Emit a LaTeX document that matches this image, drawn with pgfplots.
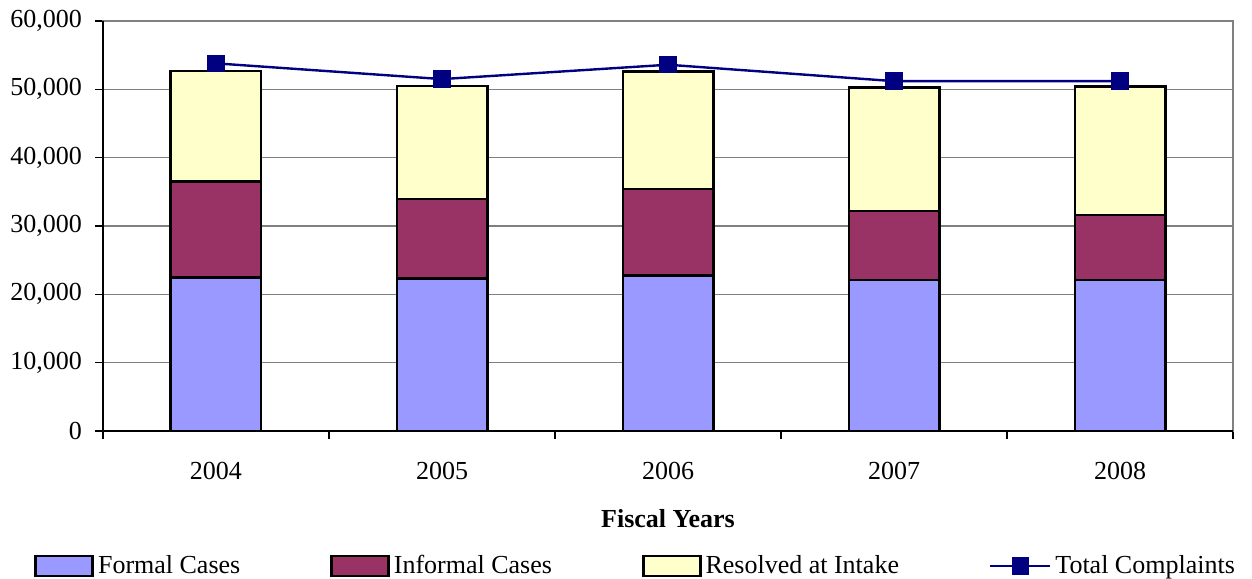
\documentclass[border=0pt]{standalone}
\usepackage{fontspec}
\setmainfont{Liberation Serif}
\usepackage{pgfplots}
\pgfplotsset{compat=1.18}
\definecolor{formal}{HTML}{9999FF}
\definecolor{informal}{HTML}{993366}
\definecolor{resolved}{HTML}{FFFFCC}
\definecolor{navyline}{HTML}{000080}
\definecolor{gridgray}{HTML}{808080}
\newcommand{\chartfont}{\fontsize{13bp}{15bp}\selectfont}
\begin{document}
\begin{tikzpicture}
\useasboundingbox (-51.5bp,-74bp) rectangle (574.5bp,215.5bp);
\begin{axis}[
  name=main,
  scale only axis,
  width=565bp, height=205bp,
  xmin=-0.5, xmax=4.5,
  ymin=0, ymax=60000,
  ybar stacked,
  bar width=0.4,
  axis line style={draw=gridgray, line width=0.8bp},
  xtick={0,1,2,3,4},
  xticklabels={2004,2005,2006,2007,2008},
  minor xtick={-0.5,0.5,1.5,2.5,3.5,4.5},
  major x tick style={draw=none},
  minor x tick style={black, line width=0.8bp},
  minor tick length=4bp,
  xtick pos=bottom,
  ytick={0,10000,...,60000},
  ytick pos=left,
  tick align=outside,
  major tick length=4bp,
  y tick style={black, line width=0.8bp},
  ymajorgrids,
  major grid style={gridgray, line width=0.8bp},
  scaled y ticks=false,
  yticklabel style={/pgf/number format/1000 sep={,}, /pgf/number format/assume math mode=true, font=\chartfont, xshift=-3bp},
  xticklabel style={font=\chartfont, yshift=-8bp},
  xlabel={\textbf{Fiscal Years}},
  xlabel style={font=\chartfont, yshift=-8bp},
  every axis plot/.append style={draw=black, line width=1.3bp},
]
\addplot[fill=formal] coordinates {(0,22450) (1,22300) (2,22800) (3,22100) (4,22100)};
\addplot[fill=informal] coordinates {(0,14050) (1,11650) (2,12600) (3,10100) (4,9500)};
\addplot[fill=resolved] coordinates {(0,16200) (1,16550) (2,17200) (3,18100) (4,18800)};
\end{axis}
\draw[black, line width=0.8bp] (main.north west) -- (main.south west) -- (main.south east);
\begin{axis}[
  scale only axis,
  width=565bp, height=205bp,
  xmin=-0.5, xmax=4.5,
  ymin=0, ymax=60000,
  axis lines=none,
  legend columns=4,
  legend style={draw=none, fill=none, font=\chartfont, at={(-0.061,-0.329)}, anchor=west,
    inner xsep=0pt,
    /tikz/every odd column/.append style={column sep=0bp},
    /tikz/every even column/.append style={column sep=43bp}},
  legend cell align=left,
]
\addlegendimage{legend image code/.code={\draw[fill=formal, draw=black, line width=1.3bp] (0bp,-5bp) rectangle (28.5bp,5bp);}}
\addlegendentry{Formal Cases}
\addlegendimage{legend image code/.code={\draw[fill=informal, draw=black, line width=1.3bp] (0bp,-5bp) rectangle (28.5bp,5bp);}}
\addlegendentry{Informal Cases}
\addlegendimage{legend image code/.code={\draw[fill=resolved, draw=black, line width=1.3bp] (0bp,-5bp) rectangle (28.5bp,5bp);}}
\addlegendentry{Resolved at Intake}
\addplot[navyline, line width=1.2bp, mark=square*, mark size=3.75bp, mark options={fill=navyline, draw=navyline},
  legend image code/.code={\draw[navyline, line width=1.2bp] (0bp,0bp) -- (30bp,0bp); \fill[navyline] (11.25bp,-3.75bp) rectangle (18.75bp,3.75bp);}]
  coordinates {(0,53800) (1,51500) (2,53600) (3,51200) (4,51200)};
\addlegendentry{Total Complaints}
\end{axis}
\end{tikzpicture}
\end{document}
